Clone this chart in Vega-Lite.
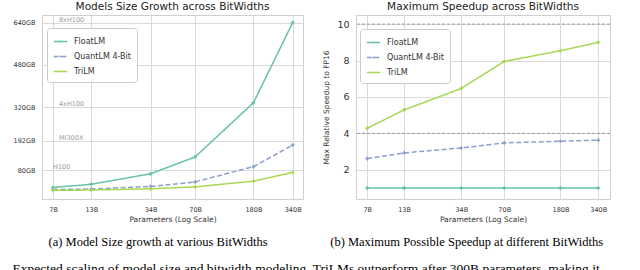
{
  "$schema": "https://vega.github.io/schema/vega-lite/v6.json",
  "padding": {"left": 12, "top": 1, "right": 5, "bottom": 0},
  "background": "white",
  "datasets": {
    "size": [
      {"model": "FloatLM", "params": 7, "gb": 14},
      {"model": "FloatLM", "params": 13, "gb": 26},
      {"model": "FloatLM", "params": 34, "gb": 66},
      {"model": "FloatLM", "params": 70, "gb": 130},
      {"model": "FloatLM", "params": 180, "gb": 336},
      {"model": "FloatLM", "params": 340, "gb": 641},
      {"model": "QuantLM 4-Bit", "params": 7, "gb": 6},
      {"model": "QuantLM 4-Bit", "params": 13, "gb": 8},
      {"model": "QuantLM 4-Bit", "params": 34, "gb": 18},
      {"model": "QuantLM 4-Bit", "params": 70, "gb": 35},
      {"model": "QuantLM 4-Bit", "params": 180, "gb": 93},
      {"model": "QuantLM 4-Bit", "params": 340, "gb": 175},
      {"model": "TriLM", "params": 7, "gb": 3},
      {"model": "TriLM", "params": 13, "gb": 4},
      {"model": "TriLM", "params": 34, "gb": 9},
      {"model": "TriLM", "params": 70, "gb": 16},
      {"model": "TriLM", "params": 180, "gb": 38},
      {"model": "TriLM", "params": 340, "gb": 71}
    ],
    "speed": [
      {"model": "FloatLM", "params": 7, "speedup": 1},
      {"model": "FloatLM", "params": 13, "speedup": 1},
      {"model": "FloatLM", "params": 34, "speedup": 1},
      {"model": "FloatLM", "params": 70, "speedup": 1},
      {"model": "FloatLM", "params": 180, "speedup": 1},
      {"model": "FloatLM", "params": 340, "speedup": 1},
      {"model": "QuantLM 4-Bit", "params": 7, "speedup": 2.62},
      {"model": "QuantLM 4-Bit", "params": 13, "speedup": 2.93},
      {"model": "QuantLM 4-Bit", "params": 34, "speedup": 3.2},
      {"model": "QuantLM 4-Bit", "params": 70, "speedup": 3.48},
      {"model": "QuantLM 4-Bit", "params": 180, "speedup": 3.57},
      {"model": "QuantLM 4-Bit", "params": 340, "speedup": 3.63},
      {"model": "TriLM", "params": 7, "speedup": 4.28},
      {"model": "TriLM", "params": 13, "speedup": 5.29},
      {"model": "TriLM", "params": 34, "speedup": 6.47},
      {"model": "TriLM", "params": 70, "speedup": 7.95},
      {"model": "TriLM", "params": 180, "speedup": 8.54},
      {"model": "TriLM", "params": 340, "speedup": 9.0}
    ],
    "gpus": [
      {"label": "8xH100", "params": 7.7, "gb": 640},
      {"label": "4xH100", "params": 7.7, "gb": 320},
      {"label": "MI300X", "params": 7.7, "gb": 192},
      {"label": "H100", "params": 7.0, "gb": 80}
    ],
    "refs": [{"v": 4}, {"v": 10}]
  },
  "title": {
    "text": "Expected scaling of model size and bitwidth modeling, TriLMs outperform after 300B parameters, making it",
    "orient": "bottom",
    "anchor": "start",
    "font": "Liberation Serif",
    "fontSize": 13.5,
    "fontWeight": "normal",
    "color": "#000",
    "offset": 14
  },
  "spacing": 18,
  "hconcat": [
    {
      "title": {"text": "(a) Model Size growth at various BitWidths", "orient": "bottom", "anchor": "middle", "font": "Liberation Serif", "fontSize": 12.5, "fontWeight": "normal", "color": "#000", "offset": 12},
      "vconcat": [
        {
          "width": 261,
          "height": 184,
          "title": {"text": "Models Size Growth across BitWidths"},
          "layer": [
            {
              "data": {"name": "size"},
              "mark": {"type": "line", "strokeWidth": 1.5},
              "encoding": {
                "x": {"field": "params", "type": "quantitative", "scale": {"type": "log", "domain": [5.85, 402], "nice": false}, "title": "Parameters (Log Scale)", "axis": {"values": [7, 13, 34, 70, 180, 340], "labelExpr": "datum.value + 'B'"}},
                "y": {"field": "gb", "type": "quantitative", "scale": {"domain": [-30, 670], "nice": false, "zero": false}, "title": null, "axis": {"values": [80, 192, 320, 480, 640], "labelExpr": "datum.value + 'GB'", "labelFontSize": 6.5}},
                "color": {"field": "model", "type": "nominal", "title": null, "scale": {"domain": ["FloatLM", "QuantLM 4-Bit", "TriLM"], "range": ["#66c2a5", "#8da0cb", "#a6d854"]}, "legend": {"orient": "none", "legendX": 5, "legendY": 13}},
                "strokeDash": {"field": "model", "type": "nominal", "title": null, "scale": {"domain": ["FloatLM", "QuantLM 4-Bit", "TriLM"], "range": [[1, 0], [5, 2.5], [1, 0]]}, "legend": {"orient": "none", "legendX": 5, "legendY": 13}}
              }
            },
            {
              "data": {"name": "size"},
              "mark": {"type": "point", "shape": "cross", "filled": true, "size": 14, "opacity": 1},
              "encoding": {
                "x": {"field": "params", "type": "quantitative"},
                "y": {"field": "gb", "type": "quantitative"},
                "color": {"field": "model", "type": "nominal"}
              }
            },
            {
              "data": {"name": "gpus"},
              "mark": {"type": "text", "align": "left", "baseline": "bottom", "fontSize": 6.5, "color": "#9a9a9a", "dy": 0},
              "encoding": {
                "x": {"field": "params", "type": "quantitative"},
                "y": {"field": "gb", "type": "quantitative"},
                "text": {"field": "label"}
              }
            }
          ]
        }
      ]
    },
    {
      "title": {"text": "(b) Maximum Possible Speedup at different BitWidths", "orient": "bottom", "anchor": "middle", "font": "Liberation Serif", "fontSize": 12.5, "fontWeight": "normal", "color": "#000", "offset": 12},
      "vconcat": [
        {
          "width": 254,
          "height": 184,
          "title": {"text": "Maximum Speedup across BitWidths"},
          "layer": [
            {
              "data": {"name": "refs"},
              "mark": {"type": "rule", "color": "#888", "strokeWidth": 0.8, "strokeDash": [3, 2]},
              "encoding": {"y": {"field": "v", "type": "quantitative"}}
            },
            {
              "data": {"name": "speed"},
              "mark": {"type": "line", "strokeWidth": 1.5},
              "encoding": {
                "x": {"field": "params", "type": "quantitative", "scale": {"type": "log", "domain": [5.8, 414], "nice": false}, "title": "Parameters (Log Scale)", "axis": {"values": [7, 13, 34, 70, 180, 340], "labelExpr": "datum.value + 'B'"}},
                "y": {"field": "speedup", "type": "quantitative", "scale": {"domain": [0.4, 10.5], "nice": false, "zero": false}, "title": "Max Relative Speedup to FP16", "axis": {"values": [2, 4, 6, 8, 10], "labelFontSize": 9.5, "titlePadding": 6}},
                "color": {"field": "model", "type": "nominal", "title": null, "scale": {"domain": ["FloatLM", "QuantLM 4-Bit", "TriLM"], "range": ["#66c2a5", "#8da0cb", "#a6d854"]}, "legend": {"orient": "none", "legendX": 4, "legendY": 14}},
                "strokeDash": {"field": "model", "type": "nominal", "title": null, "scale": {"domain": ["FloatLM", "QuantLM 4-Bit", "TriLM"], "range": [[1, 0], [5, 2.5], [1, 0]]}, "legend": {"orient": "none", "legendX": 4, "legendY": 14}}
              }
            },
            {
              "data": {"name": "speed"},
              "mark": {"type": "point", "shape": "cross", "filled": true, "size": 14, "opacity": 1},
              "encoding": {
                "x": {"field": "params", "type": "quantitative"},
                "y": {"field": "speedup", "type": "quantitative"},
                "color": {"field": "model", "type": "nominal"}
              }
            }
          ]
        }
      ]
    }
  ],
  "resolve": {"scale": {"color": "independent", "strokeDash": "independent", "x": "independent", "y": "independent"}, "legend": {"color": "independent", "strokeDash": "independent"}},
  "config": {
    "font": "DejaVu Sans",
    "view": {"stroke": "#cfcfcf", "strokeWidth": 1},
    "title": {"font": "DejaVu Sans", "fontSize": 10.5, "fontWeight": "normal", "color": "#222", "offset": 3},
    "axis": {
      "domain": false,
      "ticks": false,
      "grid": true,
      "gridColor": "#dadada",
      "gridWidth": 1,
      "labelFont": "DejaVu Sans",
      "labelFontSize": 6.5,
      "labelColor": "#333",
      "labelPadding": 7,
      "titleFont": "DejaVu Sans",
      "titleFontSize": 7.5,
      "titleFontWeight": "normal",
      "titleColor": "#333",
      "titlePadding": 3
    },
    "legend": {
      "labelFont": "DejaVu Sans",
      "labelFontSize": 8,
      "labelColor": "#333",
      "fillColor": "white",
      "strokeColor": "#cccccc",
      "cornerRadius": 3,
      "padding": 6,
      "rowPadding": 3,
      "symbolType": "M-1,0L1,0M0,-0.15L0,0.15",
      "symbolSize": 180,
      "symbolStrokeWidth": 1.5,
      "labelOffset": 6
    }
  }
}
